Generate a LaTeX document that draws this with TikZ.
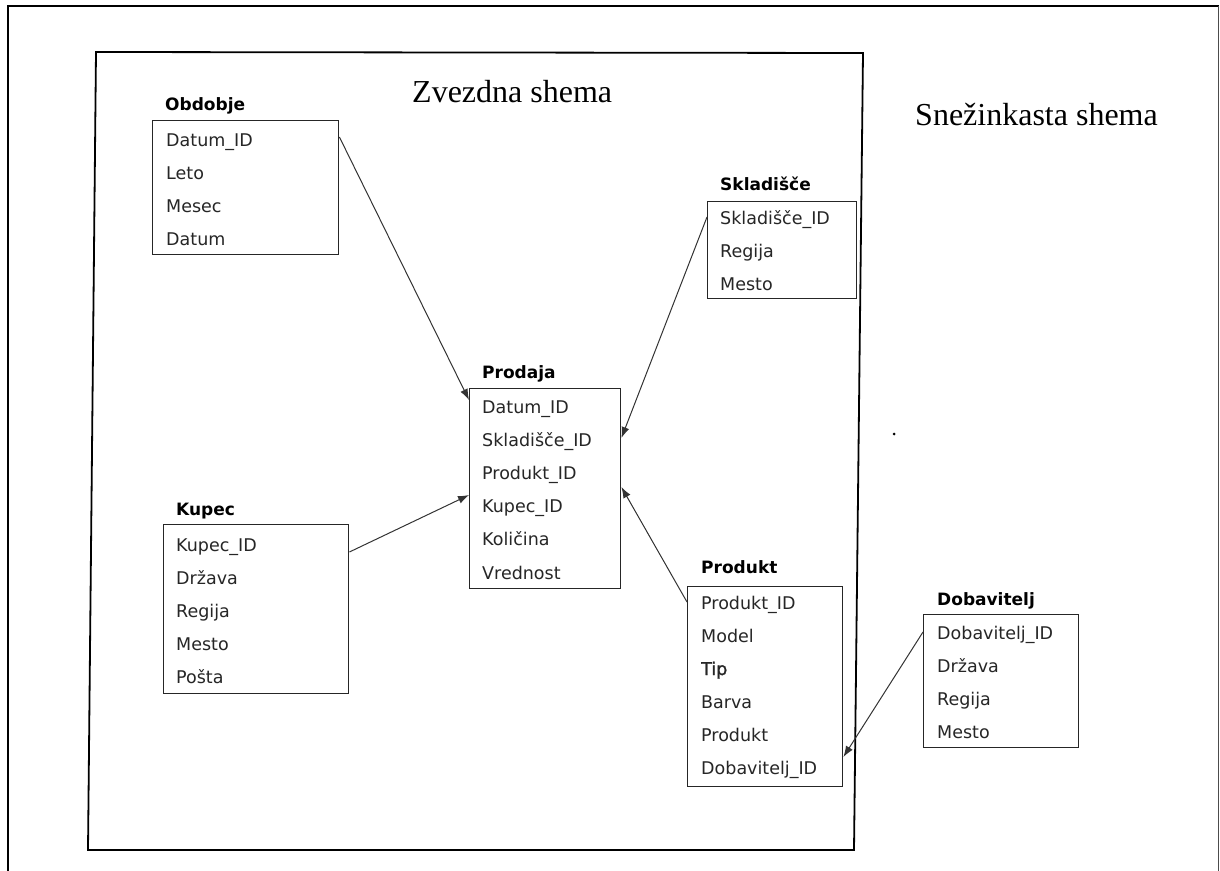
\documentclass[tikz,border=0pt]{standalone}
\usepackage{fontspec}
\usetikzlibrary{arrows.meta}
\newfontfamily\tblfont{DejaVu Sans}
\newfontfamily\tblsemi[FakeBold=1.2]{DejaVu Sans}
\newfontfamily\headfont{Liberation Serif}
\begin{document}
\begin{tikzpicture}[x=1pt,y=-1pt,
  tbl/.style={draw=black!85, line width=1.4pt, fill=white, anchor=north west, inner sep=0pt},
  fld/.style={font=\tblfont\fontsize{17.5}{20}\selectfont, anchor=base west, inner sep=0pt, text=black!85},
  ttl/.style={font=\tblfont\bfseries\fontsize{17}{20}\selectfont, anchor=base west, inner sep=0pt},
  head/.style={font=\headfont\fontsize{32}{38}\selectfont, anchor=base west, inner sep=0pt},
  link/.style={draw=black!80, line width=1pt, -{Latex[length=11pt,width=8pt]}},
  frame/.style={draw=black, line width=1.8pt}]
\useasboundingbox (0,0) rectangle (1220,870);

% page frame (runs past the lower edge)
\draw[line width=1.3pt] (8,875) -- (8,6);
\draw[line width=2pt] (7,6) -- (1219,6);
\draw[line width=0.8pt, black!70] (1218,6) -- (1218,875);

% frame around the star schema
\draw[frame] (96,52) -- (863,53) -- (854,850) -- (88,850) -- cycle;

\node[head] (star) at (412,102) {Zvezdna shema};
\node[head] (snow) at (915,125) {Snežinkasta shema};

% Obdobje
\node[ttl] (obd-t) at (165,110) {Obdobje};
\node[tbl, minimum width=186pt, minimum height=134pt] (obd) at (152,120) {};
\foreach \t [count=\i from 0] in {Datum\_ID, Leto, Mesec, Datum}
  \node[fld] (obd-\i) at (166,{146+33*\i}) {\t};

% Prodaja
\node[ttl] (pro-t) at (482,378) {Prodaja};
\node[tbl, minimum width=151pt, minimum height=200pt] (pro) at (469,388) {};
\foreach \t [count=\i from 0] in {Datum\_ID, Skladišče\_ID, Produkt\_ID, Kupec\_ID, Količina, Vrednost}
  \node[fld] (pro-\i) at (482,{413+33.2*\i}) {\t};

% Skladišče
\node[ttl] (skl-t) at (720,190) {Skladišče};
\node[tbl, minimum width=149pt, minimum height=97pt] (skl) at (707,201) {};
\foreach \t [count=\i from 0] in {Skladišče\_ID, Regija, Mesto}
  \node[fld] (skl-\i) at (720,{224+33*\i}) {\t};

% Kupec
\node[ttl] (kup-t) at (176,515) {Kupec};
\node[tbl, minimum width=185pt, minimum height=169pt] (kup) at (163,524) {};
\foreach \t [count=\i from 0] in {Kupec\_ID, Država, Regija, Mesto, Pošta}
  \node[fld] (kup-\i) at (176,{551+33*\i}) {\t};

% Produkt
\node[ttl] (pdk-t) at (701,573) {Produkt};
\node[tbl, minimum width=155pt, minimum height=200pt] (pdk) at (687,586) {};
\foreach \t [count=\i from 0] in {Produkt\_ID, Model, {\tblsemi Tip}, Barva, Produkt, Dobavitelj\_ID}
  \node[fld] (pdk-\i) at (701,{609+33*\i}) {\t};

% Dobavitelj
\node[ttl] (dob-t) at (937,605) {Dobavitelj};
\node[tbl, minimum width=155pt, minimum height=133pt] (dob) at (923,614) {};
\foreach \t [count=\i from 0] in {Dobavitelj\_ID, Država, Regija, Mesto}
  \node[fld] (dob-\i) at (937,{639+33*\i}) {\t};

% references between the tables
\draw[link] ([yshift=-17pt]obd.north east) -- ([yshift=-12pt]pro.north west);
\draw[link] ([yshift=-16pt]skl.north west) -- ([yshift=-50pt]pro.north east);
\draw[link] ([yshift=-16pt]pdk.north west) -- ([yshift=-99pt]pro.north east);
\draw[link] ([yshift=-28pt]kup.north east) -- ([yshift=-107pt]pro.north west);
\draw[link] ([yshift=-18pt]dob.north west) -- ([yshift=-171pt]pdk.north east);

\fill (894,434) circle (1.5pt);
\end{tikzpicture}
\end{document}
